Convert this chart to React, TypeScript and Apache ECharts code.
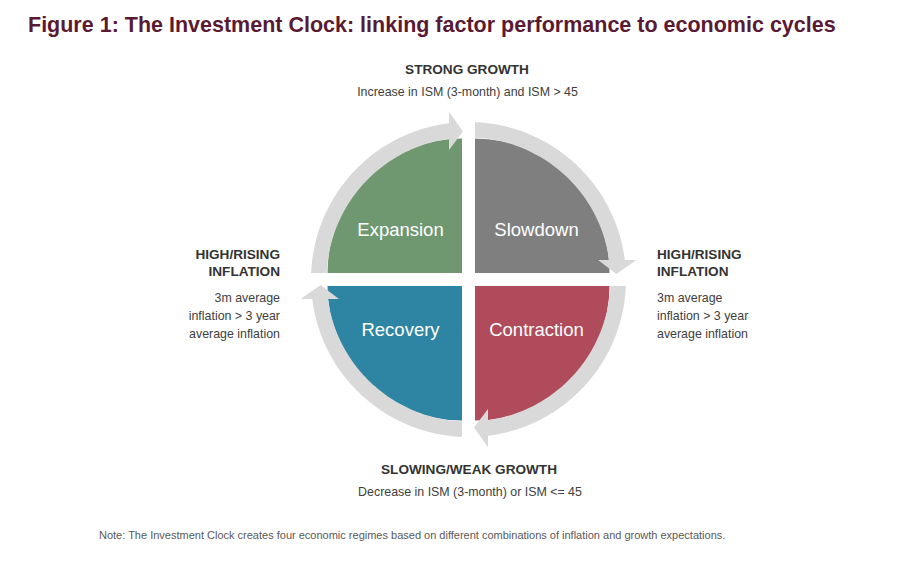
import React, { useEffect, useRef } from "react";
import * as echarts from "echarts";

const titleText = "Figure 1: The Investment Clock: linking factor performance to economic cycles";
const noteText =
  "Note: The Investment Clock creates four economic regimes based on different combinations of inflation and growth expectations.";
const regimes = ["Expansion", "Slowdown", "Contraction", "Recovery"];
const regimeColors = ["#6f9870", "#7f7f7f", "#b04b5b", "#2d85a3"];
const regimeStartAngles = [180, 270, 0, 90];
const topLabels = ["STRONG GROWTH", "Increase in ISM (3-month) and ISM > 45"];
const bottomLabels = ["SLOWING/WEAK GROWTH", "Decrease in ISM (3-month) or ISM <= 45"];
const sideHeading = ["HIGH/RISING", "INFLATION"];
const sideText = ["3m average", "inflation > 3 year", "average inflation"];

const FONT = "Liberation Sans, Arial, Helvetica, sans-serif";
const CX = 468.5;
const CY = 279.5;
const GAP = 6.5;
const SECTOR_R = 134.5;
const R1 = 142;
const R2 = 157.5;
const RH1 = 131;
const RH2 = 169;
const RT = 148;
const CUT = 6.5;
const HEAD_BACK = 19.5;
const TIP = 5.5;

const rad = (d: number) => (d * Math.PI) / 180;
const pt = (r: number, a: number) => [CX + r * Math.cos(rad(a)), CY + r * Math.sin(rad(a))];
const off = (d: number, r: number) => (Math.asin(d / r) * 180) / Math.PI;

function arrowPoints(a0: number) {
  const a1 = a0 + 90;
  const N = 60;
  const pts: number[][] = [];
  const sOut = a0 + off(CUT, R2);
  const eOut = a1 - off(HEAD_BACK, R2);
  for (let i = 0; i <= N; i++) pts.push(pt(R2, sOut + ((eOut - sOut) * i) / N));
  pts.push(pt(RH2, a1 - off(HEAD_BACK, RH2)));
  pts.push(pt(RT, a1 - off(TIP, RT)));
  pts.push(pt(RH1, a1 - off(HEAD_BACK, RH1)));
  const sIn = a0 + off(CUT, R1);
  const eIn = a1 - off(HEAD_BACK, R1);
  for (let i = N; i >= 0; i--) pts.push(pt(R1, sIn + ((eIn - sIn) * i) / N));
  return pts;
}

function txt(
  text: string,
  x: number,
  y: number,
  size: number,
  weight: string,
  fill: string,
  align: string
) {
  return {
    type: "text",
    x,
    y,
    silent: true,
    style: {
      text,
      x: 0,
      y: 0,
      fill,
      fontSize: size,
      fontWeight: weight,
      fontFamily: FONT,
      align,
      verticalAlign: "middle",
      textAlign: align,
      textVerticalAlign: "middle",
    },
  };
}

export default function App() {
  const ref = useRef<HTMLDivElement>(null);
  useEffect(() => {
    if (!ref.current) return;
    const chart = echarts.init(ref.current, null, { renderer: "svg" });
    const elements: any[] = [];

    regimes.forEach((name, i) => {
      const a0 = regimeStartAngles[i];
      const mid = rad(a0 + 45);
      const sx = Math.sign(Math.cos(mid));
      const sy = Math.sign(Math.sin(mid));
      const cx = CX + sx * GAP;
      const cy = CY + sy * GAP;
      elements.push({
        type: "sector",
        silent: true,
        shape: { cx, cy, r0: 0, r: SECTOR_R, startAngle: rad(a0), endAngle: rad(a0 + 90), clockwise: true },
        style: { fill: regimeColors[i] },
      });
    });
    regimes.forEach((name, i) => {
      const a0 = regimeStartAngles[i];
      elements.push({
        type: "polygon",
        silent: true,
        shape: { points: arrowPoints(a0) },
        style: { fill: "#d9d9d9" },
      });
    });
    regimes.forEach((name, i) => {
      const a0 = regimeStartAngles[i];
      const mid = rad(a0 + 45);
      const sx = Math.sign(Math.cos(mid));
      const sy = Math.sign(Math.sin(mid));
      elements.push(txt(name, CX + sx * GAP + sx * 61.5, CY + sy * GAP + sy * 43.5, 18.5, "normal", "#ffffff", "center"));
    });

    elements.push(txt(titleText, 28, 25, 21.5, "bold", "#5a1a33", "left"));
    elements.push(txt(topLabels[0], 467, 69, 13.6, "bold", "#333333", "center"));
    elements.push(txt(topLabels[1], 467.5, 91.5, 12.4, "normal", "#404040", "center"));
    elements.push(txt(bottomLabels[0], 469, 469, 13.6, "bold", "#333333", "center"));
    elements.push(txt(bottomLabels[1], 470, 491.5, 12.4, "normal", "#404040", "center"));

    sideHeading.forEach((s, k) => {
      elements.push(txt(s, 280, 254.5 + k * 17, 13.6, "bold", "#333333", "right"));
      elements.push(txt(s, 657, 254.5 + k * 17, 13.6, "bold", "#333333", "left"));
    });
    sideText.forEach((s, k) => {
      elements.push(txt(s, 280, 297.5 + k * 18, 12.4, "normal", "#404040", "right"));
      elements.push(txt(s, 657, 297.5 + k * 18, 12.4, "normal", "#404040", "left"));
    });
    elements.push(txt(noteText, 99, 535, 11, "normal", "#595959", "left"));

    chart.setOption({
      animation: false,
      backgroundColor: "#ffffff",
      graphic: { elements },
    });
    return () => chart.dispose();
  }, []);
  return (
    <div
      ref={ref}
      style={{ position: "fixed", left: 0, top: 0, width: 915, height: 565, background: "#ffffff" }}
    />
  );
}
